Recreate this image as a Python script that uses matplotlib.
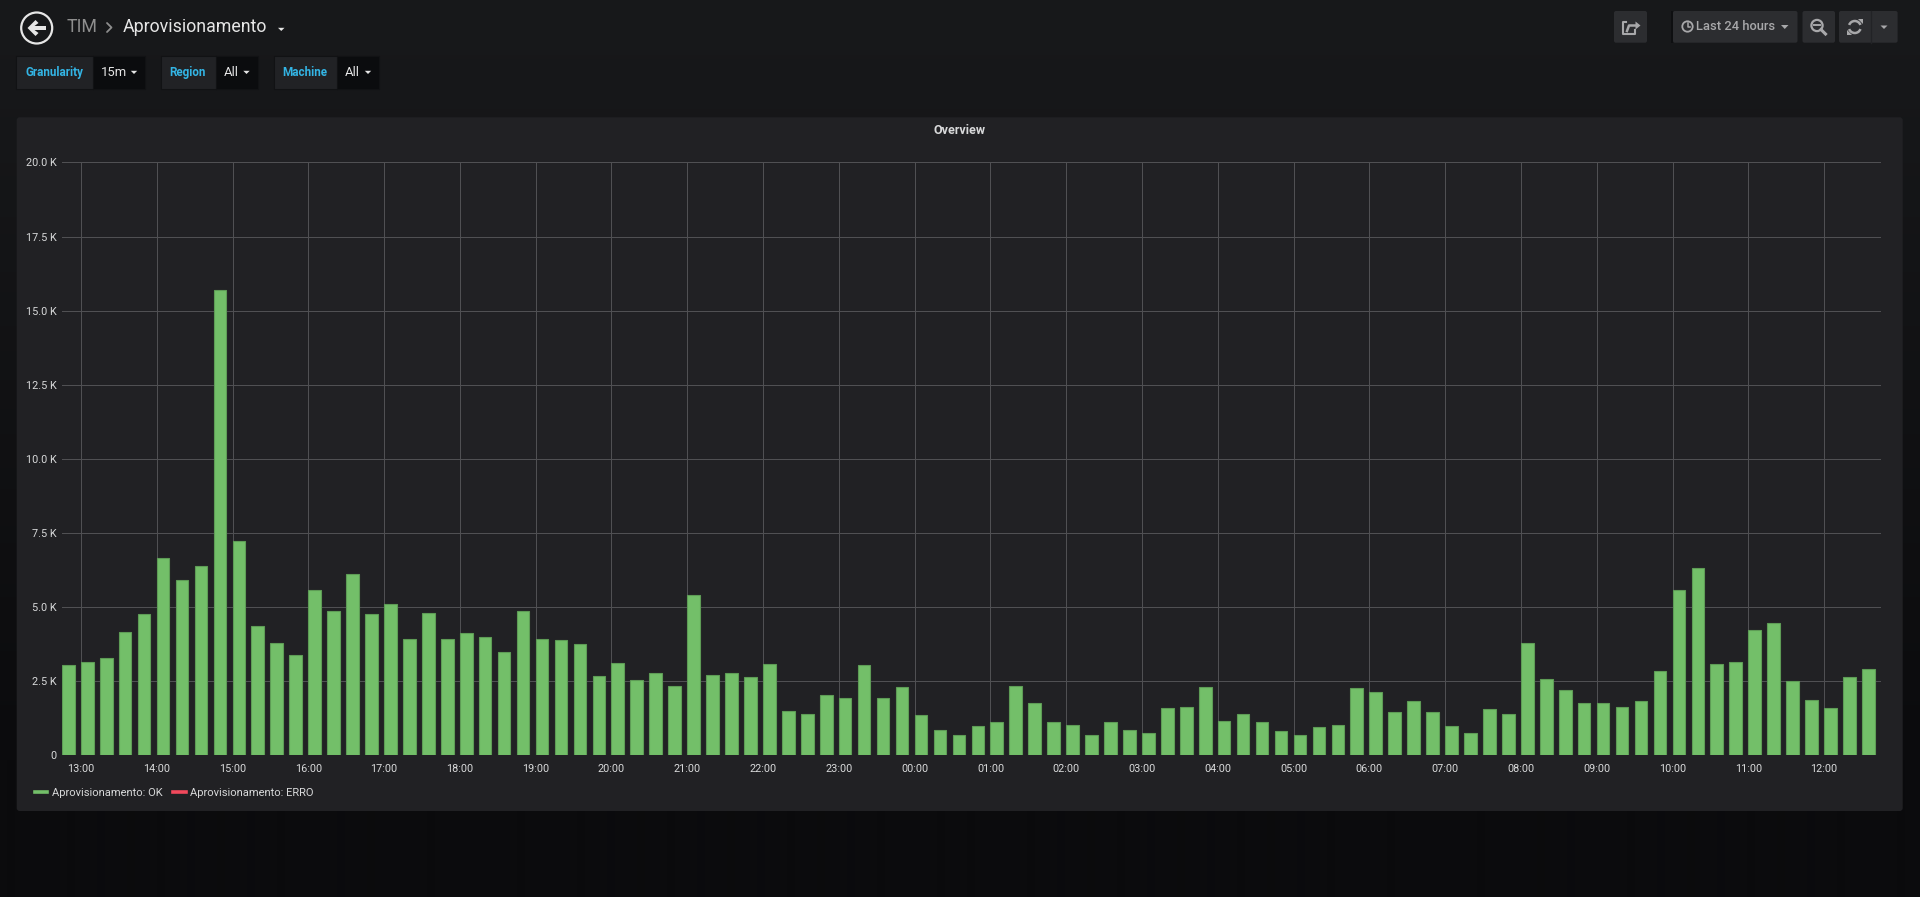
import numpy as np
import pandas as pd
import matplotlib
matplotlib.use('Agg')
import matplotlib.pyplot as plt
import matplotlib.dates as mdates
from matplotlib.patches import FancyBboxPatch, Rectangle, Circle, Polygon, Arc
from matplotlib.lines import Line2D
from matplotlib.ticker import FuncFormatter

plt.rcParams['font.family'] = ['Roboto', 'DejaVu Sans']

# ---------------- data ----------------
start_time = pd.Timestamp('2018-06-11 12:45')
bar_times = pd.date_range(start_time, periods=96, freq='15min')
ok_values = [
    3050, 3140, 3280, 4150, 4760, 6660, 5910, 6390, 15710, 7220, 4350, 3780,
    3390, 5580, 4860, 6120, 4770, 5090, 3930, 4800, 3910, 4130, 3980, 3490,
    4880, 3920, 3880, 3740, 2660, 3130, 2530, 2770, 2350, 5410, 2710, 2770,
    2630, 3070, 1510, 1380, 2050, 1950, 3060, 1920, 2320, 1350, 850, 670,
    980, 1140, 2340, 1770, 1110, 1030, 680, 1140, 870, 760, 1600, 1630,
    2300, 1150, 1390, 1110, 810, 670, 940, 1020, 2260, 2150, 1460, 1830,
    1450, 990, 750, 1570, 1380, 3800, 2580, 2210, 1770, 1770, 1630, 1820,
    2830, 5580, 6320, 3090, 3150, 4230, 4470, 2490, 1850, 1600, 2650, 2910,
]
series_names = ['Aprovisionamento: OK', 'Aprovisionamento: ERRO']
series_colors = ['#73bf69', '#f2495c']
y_ticks = [0, 2500, 5000, 7500, 10000, 12500, 15000, 17500, 20000]
panel_title = 'Overview'
breadcrumb = ['TIM', 'Aprovisionamento']
variables = [('Granularity', '15m'), ('Region', 'All'), ('Machine', 'All')]
time_range_label = 'Last 24 hours'

# ---------------- figure ----------------
W, H = 1920, 897
fig = plt.figure(figsize=(W / 100, H / 100), dpi=100)

bg = fig.add_axes([0, 0, 1, 1])
bg.set_xlim(0, W)
bg.set_ylim(H, 0)
bg.axis('off')
bg.set_zorder(0)

# page background gradient
c0 = np.array([24, 25, 27]) / 255
c1 = np.array([11, 11, 13]) / 255
t = np.clip(np.linspace(0, H, H) / 760.0, 0, 1)[:, None, None]
grad = c0 * (1 - t) + c1 * t
bg.imshow(grad, extent=[0, W, H, 0], aspect='auto', interpolation='bilinear', zorder=0)

# panel
bg.add_patch(FancyBboxPatch((16.7, 117.3), 1886, 693.7,
                            boxstyle='round,pad=0,rounding_size=3',
                            fc='#212124', ec='none', zorder=1))
bg.text(959.3, 130.7, panel_title, ha='center', va='center', fontsize=9,
        fontweight='bold', color='#d8d9da', zorder=3)

# ---------------- header ----------------
WHITE = '#e6e6e6'
GRAY_BTN = '#a8a8aa'
bg.add_patch(Circle((36.7, 28), 15.5, fc='none', ec=WHITE, lw=1.6, zorder=3))
bg.add_patch(Polygon([(27.5, 28), (35.5, 20), (38.5, 23), (34.5, 26), (46, 26),
                      (46, 30), (34.5, 30), (38.5, 33), (35.5, 36)],
                     closed=True, fc=WHITE, ec='none', zorder=3))
bg.text(67, 27, breadcrumb[0], ha='left', va='center', fontsize=12.8,
        color='#8e8e8e', zorder=3)
bg.plot([107, 111.5, 107], [23, 27.5, 32], color='#8e8e8e', lw=1.3,
        solid_capstyle='round', zorder=3)
bg.text(123, 27, breadcrumb[1], ha='left', va='center', fontsize=12.8,
        color=WHITE, zorder=3)
bg.add_patch(Polygon([(278, 27.8), (284.5, 27.8), (281.25, 31)], closed=True,
                     fc=WHITE, ec='none', zorder=3))

# variable selectors
var_boxes = [(16, 93, 145, 25, 101), (161, 215.5, 257.5, 169, 224),
             (273.5, 337, 379, 282, 345)]
for (lbl, val), (x0, xm, x1, tx, vx) in zip(variables, var_boxes):
    bg.add_patch(Rectangle((x0, 55.7), xm - x0, 33.6, fc='#212225',
                           ec='#111214', lw=0.8, zorder=2))
    bg.add_patch(Rectangle((xm, 55.7), x1 - xm, 33.6, fc='#0b0c0e',
                           ec='#111214', lw=0.8, zorder=2))
    bg.text(tx, 72.5, lbl, ha='left', va='center', fontsize=8.4,
            fontweight='bold', color='#33b5e5', zorder=3)
    bg.text(vx, 72.5, val, ha='left', va='center', fontsize=9.4,
            color=WHITE, zorder=3)
    cx = x1 - 11
    bg.add_patch(Polygon([(cx - 3.2, 70.8), (cx + 3.2, 70.8), (cx, 74)],
                         closed=True, fc=WHITE, ec='none', zorder=3))

# right buttons
def button(x0, x1, y0=11, y1=42.7, fc='#2c2d30'):
    bg.add_patch(FancyBboxPatch((x0, y0), x1 - x0, y1 - y0,
                                boxstyle='round,pad=0,rounding_size=2',
                                fc=fc, ec='none', zorder=2))

# share
button(1614, 1647)
bg.plot([1626, 1623, 1623, 1635, 1635], [22.5, 22.5, 34, 34, 30.5],
        color=GRAY_BTN, lw=1.5, zorder=3)
bg.plot([1627, 1629, 1636], [31, 25.5, 25.5], color=GRAY_BTN, lw=1.8, zorder=3)
bg.add_patch(Polygon([(1635.5, 21.5), (1640.5, 25.5), (1635.5, 29.5)], closed=True,
                     fc=GRAY_BTN, ec='none', zorder=3))
# time picker
bg.add_patch(Rectangle((1670.5, 11), 2.5, 31.7, fc='#0e0f11', ec='none', zorder=2))
button(1673, 1797.5)
bg.add_patch(Circle((1687.5, 26.5), 5.2, fc='none', ec=GRAY_BTN, lw=1.3, zorder=3))
bg.plot([1687.5, 1687.5, 1690], [23, 27, 27], color=GRAY_BTN, lw=1.1, zorder=3)
bg.text(1696, 26.5, time_range_label, ha='left', va='center', fontsize=9.3,
        fontweight='medium', color=GRAY_BTN, zorder=3)
bg.add_patch(Polygon([(1781, 25), (1788.5, 25), (1784.75, 29)], closed=True,
                     fc=GRAY_BTN, ec='none', zorder=3))
# zoom out
button(1802.5, 1835)
bg.add_patch(Circle((1817, 25.5), 5.6, fc='none', ec=GRAY_BTN, lw=1.6, zorder=3))
bg.plot([1821, 1825.5], [29.5, 34], color=GRAY_BTN, lw=2.2, zorder=3)
bg.plot([1814, 1820], [25.5, 25.5], color=GRAY_BTN, lw=1.4, zorder=3)
# refresh + dropdown
button(1839, 1897.6)
bg.plot([1870.6, 1870.6], [11, 42.7], color='#222326', lw=1, zorder=3)
bg.add_patch(Arc((1854.8, 27), 12, 12, theta1=200, theta2=340, ec=GRAY_BTN, lw=1.8, zorder=3))
bg.add_patch(Arc((1854.8, 27), 12, 12, theta1=20, theta2=160, ec=GRAY_BTN, lw=1.8, zorder=3))
bg.add_patch(Polygon([(1858, 19), (1862.5, 19), (1862.5, 24)], closed=True,
                     fc=GRAY_BTN, ec='none', zorder=3))
bg.add_patch(Polygon([(1851.5, 35), (1847, 35), (1847, 30)], closed=True,
                     fc=GRAY_BTN, ec='none', zorder=3))
bg.add_patch(Polygon([(1880.5, 25.5), (1887.5, 25.5), (1884, 29)], closed=True,
                     fc=GRAY_BTN, ec='none', zorder=3))

# ---------------- chart ----------------
ax = fig.add_axes([62 / W, 1 - 755.3 / H, 1819 / W, 592.8 / H])
ax.set_zorder(2)
ax.set_facecolor('none')

x_nums = mdates.date2num(bar_times)
ax.bar(x_nums, ok_values, width=10 / 1440, align='edge', color=series_colors[0],
       edgecolor='#5e9c56', linewidth=0.8, zorder=3)

x0 = mdates.date2num(start_time)
ax.set_xlim(x0, x0 + 1)
ax.set_ylim(0, 20000)
ax.set_yticks(y_ticks)
ax.yaxis.set_major_formatter(FuncFormatter(
    lambda v, p: '0' if v == 0 else f'{v / 1000:.1f} K'))
ax.xaxis.set_major_locator(mdates.HourLocator())
ax.xaxis.set_major_formatter(mdates.DateFormatter('%H:%M'))
ax.grid(True, color='#505053', lw=0.75, zorder=1)
for s in ax.spines.values():
    s.set_visible(False)
ax.tick_params(length=0, colors='#d8d9da', labelsize=7.8)
ax.tick_params(axis='y', pad=4)
ax.tick_params(axis='x', pad=6)

handles = [Line2D([0], [0], color=c, lw=2.6) for c in series_colors]
fig.legend(handles, series_names, loc='center left',
           bbox_to_anchor=(35 / W, 1 - 793.3 / H), frameon=False, ncol=2,
           fontsize=8, handlelength=1.1, handletextpad=0.4, columnspacing=1.0,
           labelcolor='#d8d9da', borderpad=0, borderaxespad=0)

fig.savefig('out.png', dpi=100, facecolor=fig.get_facecolor())
